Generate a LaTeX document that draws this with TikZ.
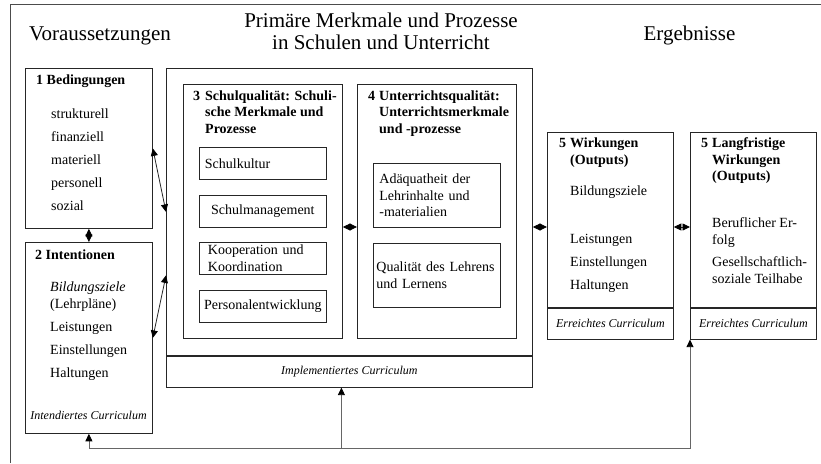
\documentclass[tikz,border=0pt]{standalone}
\usepackage{fontspec}
\setmainfont{Liberation Serif}
\usetikzlibrary{arrows.meta}

\begin{document}
\begin{tikzpicture}[
	x=1pt, y=-1pt,
	rim/.style={
		draw=black!70,
		line width=0.8pt
	},
	box/.style={
		draw=black!85,
		line width=0.8pt,
		inner sep=0pt,
		anchor=north west
	},
	sub/.style={
		box,
		minimum width=127pt,
		minimum height=32pt,
		font=\fontsize{14}{16.5}\selectfont
	},
	txt/.style={
		anchor=base west,
		inner sep=0pt,
		align=left,
		font=\fontsize{14}{16.5}\selectfont
	},
	head/.style={
		txt,
		font=\fontsize{14}{16.5}\selectfont\bfseries
	},
	big/.style={
		anchor=base,
		inner sep=0pt,
		align=center,
		font=\fontsize{21}{22.5}\selectfont
	},
	curr/.style={
		font=\fontsize{12}{14}\selectfont\itshape
	},
	link/.style={
		draw=black!85,
		line width=0.8pt
	},
	back/.style={
		draw=black!60,
		line width=0.8pt
	},
	>={Triangle[length=7.5pt,width=7pt,color=black]}
	]
	\useasboundingbox (0,0) rectangle (821,463);
	\draw[rim] (10,463) -- (10,4) -- (821,4);

	\node[big] (vor) at (100,40) {Voraussetzungen};
	\node[big] (prim-t) at (381,49.5) {Primäre Merkmale und Prozesse\\in Schulen und Unterricht};
	\node[big] (erg) at (689.5,40) {Ergebnisse};

	\node[box, minimum width=127pt, minimum height=160pt] (bed) at (25,68) {};
	\node[head] (bed-t) at (36,84) {1 Bedingungen};
	\foreach \w [count=\i] in {strukturell,finanziell,materiell,personell,sozial}
	\node[txt] (bed-\i) at (51,95+23*\i) {\w};

	\node[box, minimum width=127pt, minimum height=191pt] (int) at (25,242) {};
	\node[head] (int-t) at (35,259) {2 Intentionen};
	\node[txt] (int-1) at (50,308) {\textit{Bildungsziele}\\(Lehrpläne)};
	\foreach \w [count=\i] in {Leistungen,Einstellungen,Haltungen}
	\node[txt] (int-a\i) at (50,308+23*\i) {\w};
	\node[curr, anchor=base] (int-c) at (88.5,419) {Intendiertes Curriculum};

	\node[box, minimum width=366pt, minimum height=287pt] (prim) at (166,68) {};
	\node[box, curr, minimum width=366pt, minimum height=31pt] (impl) at (prim.south west) {Implementiertes Curriculum};

	\node[box, minimum width=159pt, minimum height=254pt] (s3) at (183,84) {};
	\node[head] (s3-n) at (193,100) {3};
	\node[head] (s3-t) at (205,133) {Schulqualität: Schuli-\\sche Merkmale und\\Prozesse};
	\node[sub, text width=116pt, align=left] (kultur) at (199,147) {Schulkultur};
	\node[sub, align=center] (mgmt) at (199,195) {Schulmanagement};
	\node[sub, text width=110pt, align=left] (koop) at (199,242) {Kooperation und\\Koordination};
	\node[sub, align=center] (pers) at (199,290) {Personalentwicklung};

	\node[box, minimum width=159pt, minimum height=254pt] (s4) at (357,84) {};
	\node[head] (s4-n) at (368,100) {4};
	\node[head] (s4-t) at (379,133) {Unterrichtsqualität:\\Unterrichtsmerkmale\\und -prozesse};
	\node[sub, minimum height=64pt, text width=115pt, align=left] (adq) at (373,163) {Adäquatheit der\\Lehrinhalte und\\-materialien};
	\node[sub, minimum height=64pt, text width=121pt, align=left] (qual) at (373,243) {Qualität des Lehrens\\und Lernens};

	\node[box, minimum width=126pt, minimum height=175pt] (w5) at (547,132) {};
	\node[box, curr, minimum width=126pt, minimum height=31pt] (w5-c) at (w5.south west) {Erreichtes Curriculum};
	\node[head] (w5-n) at (559,147.5) {5};
	\node[head] (w5-t) at (570,164) {Wirkungen\\(Outputs)};
	\node[txt] (w5-1) at (570,195) {Bildungsziele};
	\foreach \w [count=\i] in {Leistungen,Einstellungen,Haltungen}
	\node[txt] (w5-a\i) at (570,220.5+23*\i) {\w};

	\node[box, minimum width=126pt, minimum height=175pt] (w6) at (690,132) {};
	\node[box, curr, minimum width=126pt, minimum height=31pt] (w6-c) at (w6.south west) {Erreichtes Curriculum};
	\node[head] (w6-n) at (701,147.5) {5};
	\node[head] (w6-t) at (712,180.5) {Langfristige\\Wirkungen\\(Outputs)};
	\node[txt] (w6-1) at (712,244) {Beruflicher Er-\\folg};
	\node[txt] (w6-2) at (712,283) {Gesellschaftlich-\\soziale Teilhabe};

	\coordinate (mid) at (0,227);
	\draw[link, <->] (bed.east) -- (prim.west);
	\draw[link, <->] (int.east) -- ([yshift=-63.5pt]prim.west);
	\draw[link, <->] (bed.south) -- (int.north);
	\draw[link, <->] (s3.east |- mid) -- (s4.west |- mid);
	\draw[link, <->] (prim.east |- mid) -- (w5.west |- mid);
	\draw[link, <->] (w5.east |- mid) -- (w6.west |- mid);

	\coordinate (fb) at ([yshift=-15pt]int.south);
	\coordinate (ia) at ([xshift=-8pt]impl.south);
	\draw[back, <->] (int.south) -- (fb) -| (w6-c.south west);
	\draw[back, ->] (ia |- fb) -- (ia);
\end{tikzpicture}
\end{document}
